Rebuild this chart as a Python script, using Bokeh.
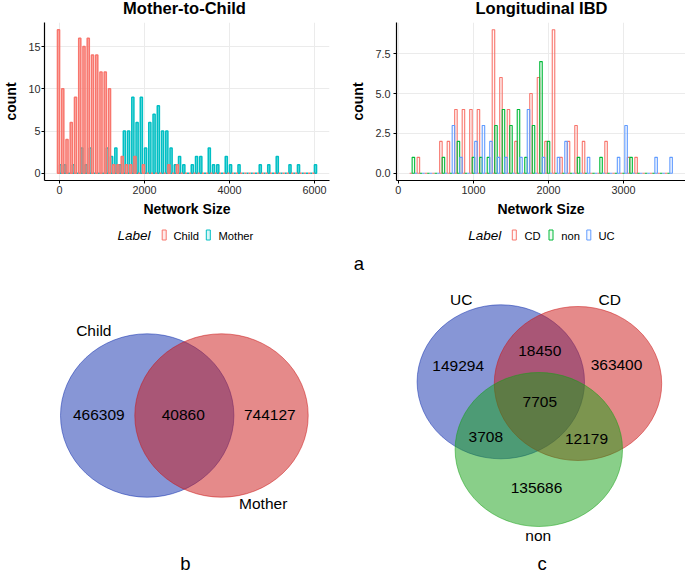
from bokeh.plotting import figure
from bokeh.layouts import column, row
from bokeh.models import Range1d, FixedTicker, Label, ColumnDataSource
from bokeh.embed import file_html
from bokeh.resources import INLINE

FONT = "Liberation Sans"

# ---------------- data ----------------
mtc_title = "Mother-to-Child"
mtc_bin_width = 100
mtc_first_center = 0
mtc_groups = ["Child", "Mother"]
child_counts = [17, 10, 4, 6, 9, 16, 15, 16, 14, 14,
                12, 12, 10, 1, 1, 2, 1, 1, 2, 0,
                1, 0, 0, 0, 0, 0, 1, 0, 1, 0,
                0, 0, 0, 0, 0, 0, 0, 0, 0, 0,
                0, 0, 0, 0, 0, 0, 0, 0, 0, 0,
                0, 0, 0, 0, 0, 0, 0, 0, 0, 0,
                0]
mother_counts = [1, 1, 0, 1, 0, 3, 1, 3, 0, 0,
                 0, 3, 2, 3, 1, 5, 5, 9, 6, 9,
                 3, 6, 7, 8, 5, 5, 3, 1, 2, 1,
                 0, 1, 2, 2, 0, 3, 1, 1, 0, 2,
                 1, 0, 1, 0, 0, 0, 0, 1, 0, 1,
                 0, 2, 0, 0, 1, 0, 1, 0, 0, 0,
                 1]
mtc_xticks = [0, 2000, 4000, 6000]
mtc_yticks = [0, 5, 10, 15]

ibd_title = "Longitudinal IBD"
ibd_bin_width = 100
ibd_first_center = 200
ibd_groups = ["CD", "non", "UC"]
cd_counts = [0, 1, 0, 0, 2, 2, 4, 4, 4, 4,
             0, 9, 6, 4, 2, 0, 5, 6, 2, 9,
             1, 2, 3, 2, 0, 0, 2, 0, 0, 1,
             1, 0, 0, 0, 0]
non_counts = [1, 0, 0, 0, 1, 0, 2, 0, 1, 1,
              1, 3, 4, 3, 4, 1, 3, 7, 2, 0,
              0, 0, 1, 0, 0, 1, 0, 0, 0, 1,
              0, 0, 0, 0, 0]
uc_counts = [0, 0, 0, 0, 0, 3, 1, 0, 2, 3,
             2, 1, 1, 0, 1, 4, 0, 1, 0, 1,
             2, 0, 0, 1, 0, 0, 0, 1, 3, 0,
             0, 0, 1, 0, 1]
ibd_xticks = [0, 1000, 2000, 3000]
ibd_yticks = [0, 2.5, 5.0, 7.5]
ibd_ytick_labels = {0: "0.0", 2.5: "2.5", 5: "5.0", 7.5: "7.5"}

venn2_sets = ["Child", "Mother"]
venn2_values = [466309, 40860, 744127]          # Child only, both, Mother only
venn3_sets = ["UC", "CD", "non"]
venn3_values = {"UC": 149294, "UC&CD": 18450, "CD": 363400, "UC&CD&non": 7705,
                "UC&non": 3708, "CD&non": 12179, "non": 135686}
panel_letters = ["a", "b", "c"]

# ---------------- styles ----------------
C_RED = "#F8766D"
C_CYAN = "#00BFC4"
C_GREEN = "#00BA38"
C_BLUE = "#619CFF"
V_BLUE = "#0F2DAD"
V_RED = "#CB1515"
V_GREEN = "#14A014"

TITLE_H = 22
HIST_H = 200


def hist_fig(width, left, right, xr, yr, xticks, yticks, tick_standoff_y, ylabel_overrides=None):
    p = figure(width=width, height=HIST_H, x_range=Range1d(*xr), y_range=Range1d(*yr),
               output_backend="svg", toolbar_location=None,
               min_border_left=left, min_border_right=right, min_border_top=0, min_border_bottom=42)
    p.outline_line_color = None
    p.xaxis.ticker = FixedTicker(ticks=xticks)
    p.yaxis.ticker = FixedTicker(ticks=yticks)
    if ylabel_overrides:
        p.yaxis.major_label_overrides = ylabel_overrides
    p.xaxis.axis_label = "Network Size"
    p.yaxis.axis_label = "count"
    for ax in (p.xaxis, p.yaxis):
        ax.axis_label_text_font = FONT
        ax.axis_label_text_font_style = "bold"
        ax.axis_label_text_font_size = "14px"
        ax.axis_label_text_color = "black"
        ax.major_label_text_font = FONT
        ax.major_label_text_font_size = "10.8px"
        ax.major_label_text_color = "#2B2B2B"
        ax.minor_tick_line_color = None
        ax.major_tick_in = 0
        ax.major_tick_out = 3
        ax.major_tick_line_color = "black"
        ax.axis_line_color = "black"
        ax.axis_line_width = 1.2
    p.xaxis.major_label_standoff = 2
    p.xaxis.axis_label_standoff = 4
    p.yaxis.major_label_standoff = tick_standoff_y
    p.yaxis.axis_label_standoff = 6
    p.grid.grid_line_color = "#EBEBEB"
    p.grid.grid_line_width = 1
    return p


# ---------------- titles strip ----------------
pt = figure(width=685, height=TITLE_H, x_range=Range1d(0, 685), y_range=Range1d(0, TITLE_H),
            output_backend="svg", toolbar_location=None, min_border=0,
            x_axis_type=None, y_axis_type=None)
pt.grid.visible = False
pt.outline_line_color = None
for x, t in [(184, mtc_title), (541, ibd_title)]:
    pt.add_layout(Label(x=x, y=TITLE_H - 7.5, text=t, text_font=FONT, text_font_size="16.5px",
                        text_font_style="bold", text_align="center", text_baseline="middle",
                        text_color="black"))

# ---------------- Mother-to-Child histogram ----------------
p1 = hist_fig(340, 38, 11, (-355, 6355), (-0.85, 17.85), mtc_xticks, mtc_yticks, 1)
n1 = len(child_counts)
centers1 = [mtc_first_center + i * mtc_bin_width for i in range(n1)]
half1 = mtc_bin_width / 2
# Mother drawn first, Child on top (dodged: Child left half, Mother right half of each bin)
for gi, counts, col in [(1, mother_counts, C_CYAN), (0, child_counts, C_RED)]:
    src = ColumnDataSource(dict(
        left=[c - half1 + gi * half1 for c in centers1],
        right=[c + gi * half1 for c in centers1],
        top=counts, bottom=[0] * n1))
    p1.quad(left="left", right="right", top="top", bottom="bottom", source=src,
            fill_color=col, fill_alpha=0.5, line_color=col, line_width=1.5)

# ---------------- Longitudinal IBD histogram ----------------
p2 = hist_fig(345, 56, 0, (-25, 3825), (-0.45, 9.45), ibd_xticks, ibd_yticks, 3,
              ylabel_overrides=ibd_ytick_labels)
n2 = len(cd_counts)
centers2 = [ibd_first_center + i * ibd_bin_width for i in range(n2)]
sub = ibd_bin_width / 3
for gi, (counts, col) in enumerate([(cd_counts, C_RED), (non_counts, C_GREEN), (uc_counts, C_BLUE)]):
    src = ColumnDataSource(dict(
        left=[c - ibd_bin_width / 2 + gi * sub for c in centers2],
        right=[c - ibd_bin_width / 2 + (gi + 1) * sub for c in centers2],
        top=counts, bottom=[0] * n2))
    p2.quad(left="left", right="right", top="top", bottom="bottom", source=src,
            fill_color=col, fill_alpha=0.06, line_color=col, line_width=1.1)

# ---------------- lower canvas: legends, Venn diagrams, panel letters ----------------
TOP = TITLE_H + HIST_H
H3 = 576 - TOP
p3 = figure(width=685, height=H3, x_range=Range1d(0, 685), y_range=Range1d(0, H3),
            output_backend="svg", toolbar_location=None, min_border=0,
            x_axis_type=None, y_axis_type=None)
p3.grid.visible = False
p3.outline_line_color = None


def fy(y):
    return 576 - y


def txt(x, y, s, size, style="normal", align="center", color="black"):
    p3.add_layout(Label(x=x, y=fy(y), text=s, text_font=FONT, text_font_size=f"{size}px",
                        text_font_style=style, text_align=align, text_baseline="middle",
                        text_color=color))


# legends
txt(117, 235, "Label", 13.5, style="italic", align="left")
for kx, name, tx, col in [(163.7, mtc_groups[0], 173, C_RED), (207.8, mtc_groups[1], 218, C_CYAN)]:
    p3.rect(x=[kx], y=[fy(234.5)], width=4, height=10, fill_color=col, fill_alpha=0.15,
            line_color=col, line_width=1)
    txt(tx, 235, name, 11.2, align="left")
txt(467.7, 235, "Label", 13.5, style="italic", align="left")
for kx, name, tx, col in [(513.8, ibd_groups[0], 524, C_RED), (550.5, ibd_groups[1], 560.7, C_GREEN),
                          (588.3, ibd_groups[2], 598, C_BLUE)]:
    p3.rect(x=[kx], y=[fy(234.5)], width=4, height=10, fill_color=col, fill_alpha=0.06,
            line_color=col, line_width=1)
    txt(tx, 235, name, 11.2, align="left")

# panel letters
txt(358.5, 263, panel_letters[0], 18.5)
txt(185, 563, panel_letters[1], 18.5)
txt(541.5, 563, panel_letters[2], 18.5)

# Venn b (two sets)
for cx, col in [(146.7, V_BLUE), (221.0, V_RED)]:
    p3.ellipse(x=[cx], y=[fy(415)], width=173.4, height=163.4, fill_color=col, fill_alpha=0.5,
               line_color=col, line_alpha=0.5, line_width=1)
txt(93.3, 330, venn2_sets[0], 15.5)
txt(262.7, 502.7, venn2_sets[1], 15.5)
for x, v in zip([98.3, 182.7, 269.3], venn2_values):
    txt(x, 414.3, str(v), 15.5)

# Venn c (three sets)
for cx, cy, col in [(500.3, 381.3, V_BLUE), (577.5, 383.0, V_RED), (538.3, 449.0, V_GREEN)]:
    p3.ellipse(x=[cx], y=[fy(cy)], width=167.4, height=154, fill_color=col, fill_alpha=0.5,
               line_color=col, line_alpha=0.5, line_width=1)
txt(460.7, 299, venn3_sets[0], 15.5)
txt(609.3, 299, venn3_sets[1], 15.5)
txt(537.7, 535.3, venn3_sets[2], 15.5)
for key, (x, y) in {"UC": (457.7, 365), "UC&CD": (539.3, 350), "CD": (616, 364),
                    "UC&CD&non": (539.3, 401.7), "UC&non": (485.3, 436), "CD&non": (586, 438.3),
                    "non": (536, 487.3)}.items():
    txt(x, y, str(venn3_values[key]), 15.5)

layout = column(pt, row(p1, p2, spacing=0), p3, spacing=0)
open("out.html", "w").write(file_html(layout, INLINE))
